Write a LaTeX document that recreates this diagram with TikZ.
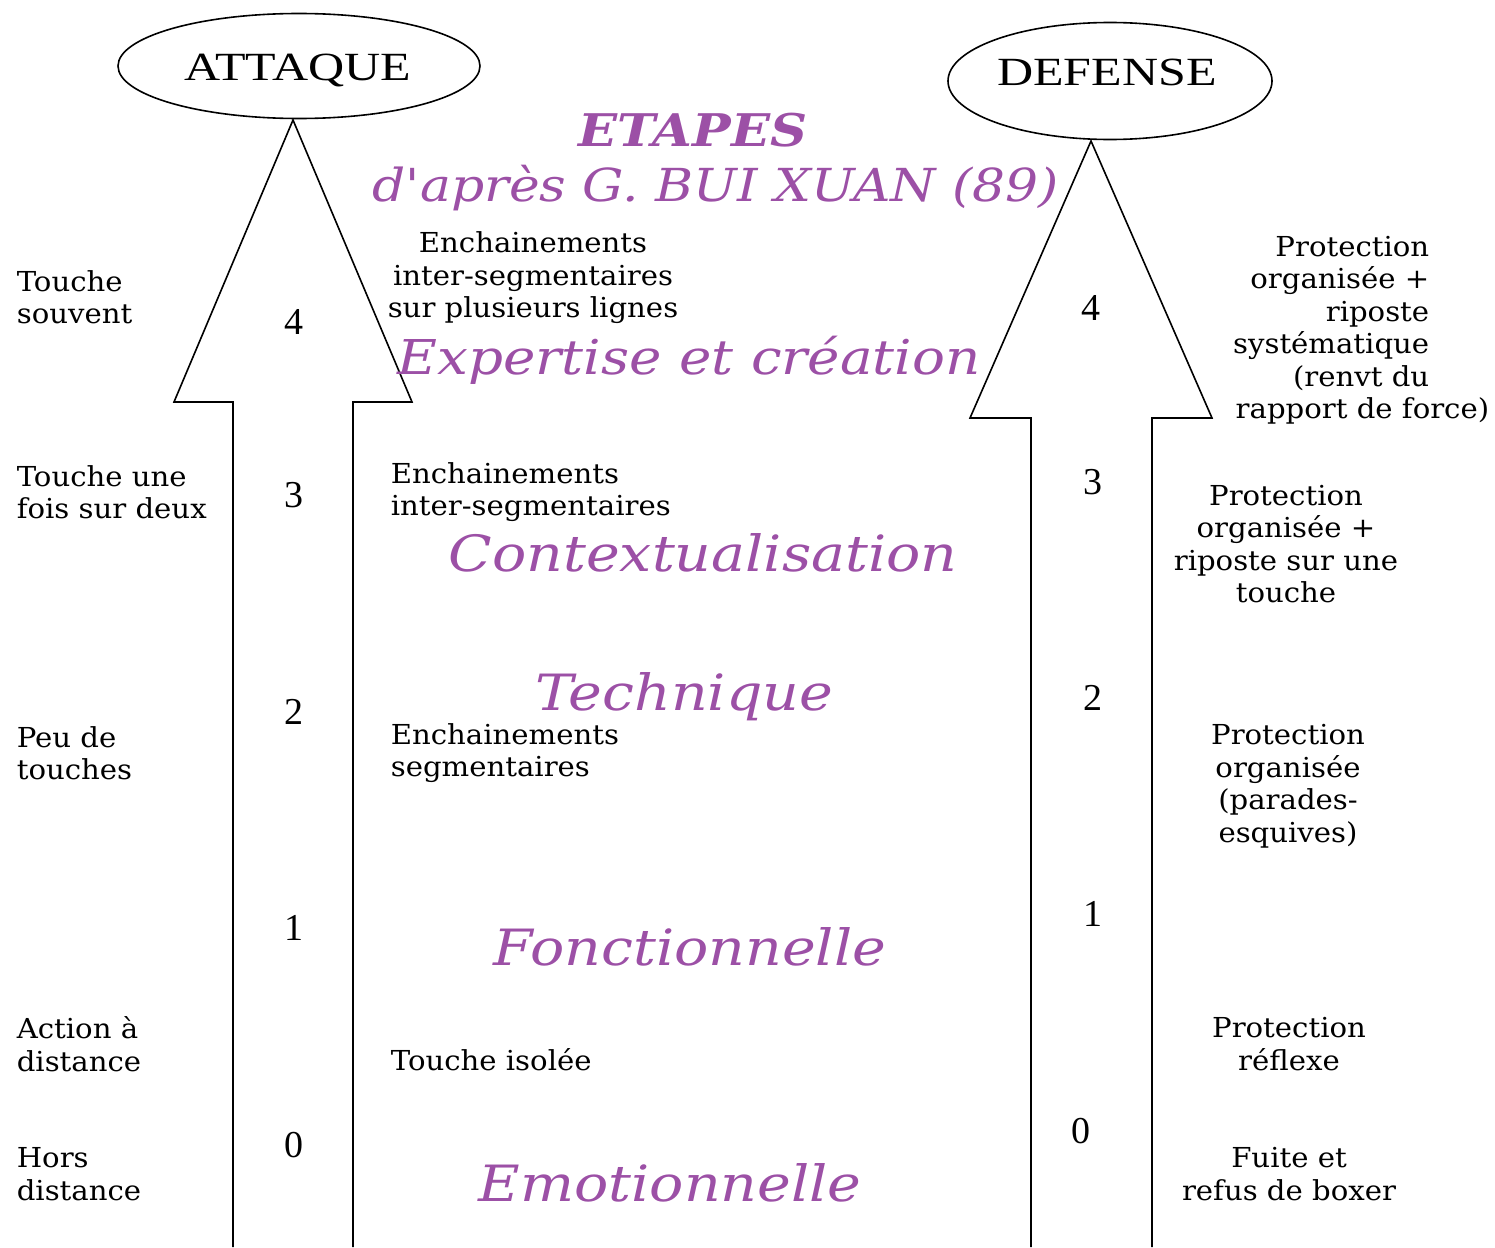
\documentclass[tikz,border=0pt]{standalone}
\usepackage{fontspec}
\usetikzlibrary{shapes.geometric}
\newfontfamily\bodyfont{DejaVu Serif}[FakeStretch=1.06]
\newfontfamily\stagefont{DejaVu Serif}[FakeStretch=1.14]
\newfontfamily\polefont{Liberation Serif}[FakeStretch=1.25]
\newfontfamily\lvlfont{Liberation Serif}
\definecolor{etape}{RGB}{156,80,166}

\begin{document}
\begin{tikzpicture}[x=1pt,y=-1pt,line width=1.6pt,
  txt/.style={inner sep=0pt,font=\bodyfont\fontsize{27.5}{32.5}\selectfont},
  lvl/.style={inner sep=0pt,font=\lvlfont\fontsize{38}{40}\selectfont},
  stage/.style={inner sep=0pt,text=etape,font=\stagefont\itshape\fontsize{50}{54}\selectfont},
  pole/.style={draw,ellipse,inner sep=0pt,font=\polefont\fontsize{40}{44}\selectfont}]
\useasboundingbox (0,0) rectangle (1495,1247);

\node[pole,minimum width=362pt,minimum height=105pt] (att) at (299,66) {};
\node[pole,draw=none] (attlbl) at (298,71) {ATTAQUE};
\node[pole,minimum width=324pt,minimum height=117pt] (def) at (1110,81) {};
\node[pole,draw=none] (deflbl) at (1107,72) {DEFENSE};

\coordinate (atip) at (293,120);
\coordinate (dtip) at (1091,141);
\draw (233,1247) -- (233,402) -- (174,402) -- (atip) -- (412,402) -- (353,402) -- (353,1247);
\draw (1031,1247) -- (1031,418) -- (970,418) -- (dtip) -- (1212,418) -- (1152,418) -- (1152,1247);

\node[stage,font=\stagefont\bfseries\itshape\fontsize{45}{48}\selectfont] (etapes) at (693,130) {ETAPES};
\node[stage,font=\stagefont\itshape\fontsize{45.5}{50}\selectfont] (src) at (716,188) {d'après G. BUI XUAN (89)};
\node[stage,font=\stagefont\itshape\fontsize{48}{52}\selectfont] (s4) at (689,360) {Expertise et création};
\node[stage] (s3) at (703,553) {Contextualisation};
\node[stage] (s2) at (684,697) {Technique};
\node[stage] (s1) at (690,947) {Fonctionnelle};
\node[stage] (s0) at (670,1183) {Emotionnelle};

\node[txt,anchor=west,align=left] (a4) at (16,297) {Touche\\souvent};
\node[txt,anchor=west,align=left] (a3) at (16,492) {Touche une\\fois sur deux};
\node[txt,anchor=west,align=left] (a2) at (16,753) {Peu de\\touches};
\node[txt,anchor=west,align=left] (a1) at (16,1044) {Action à\\distance};
\node[txt,anchor=west,align=left] (a0) at (16,1174) {Hors\\distance};

\node[lvl] (an4) at (294,322) {4};
\node[lvl] (an3) at (294,495) {3};
\node[lvl] (an2) at (294,712) {2};
\node[lvl] (an1) at (294,928) {1};
\node[lvl] (an0) at (294,1145) {0};
\node[lvl] (dn4) at (1091,308) {4};
\node[lvl] (dn3) at (1093,482) {3};
\node[lvl] (dn2) at (1093,698) {2};
\node[lvl] (dn1) at (1093,914) {1};
\node[lvl] (dn0) at (1081,1131) {0};

\node[txt,align=center] (m4) at (533,278) {Enchainements\\inter-segmentaires\\sur plusieurs lignes};
\node[txt,anchor=west,align=left] (m3) at (390,492) {Enchainements\\inter-segmentaires};
\node[txt,anchor=west,align=left] (m2) at (390,753) {Enchainements\\segmentaires};
\node[txt,anchor=west,align=left] (m1) at (390,1060) {Touche isolée};

\node[txt,anchor=east,align=right] (d4) at (1430,330) {Protection\\organisée +\\riposte\\systématique\\(renvt du\\\hbox to 0pt{\hss rapport de force)\kern-60pt}};
\node[txt,align=center] (d3) at (1286,544) {Protection\\organisée +\\riposte sur une\\touche};
\node[txt,align=center] (d2) at (1288,786) {Protection\\organisée\\(parades-\\esquives)};
\node[txt,align=center] (d1) at (1289,1044) {Protection\\réflexe};
\node[txt,align=center] (d0) at (1289,1174) {Fuite et\\refus de boxer};
\end{tikzpicture}
\end{document}
